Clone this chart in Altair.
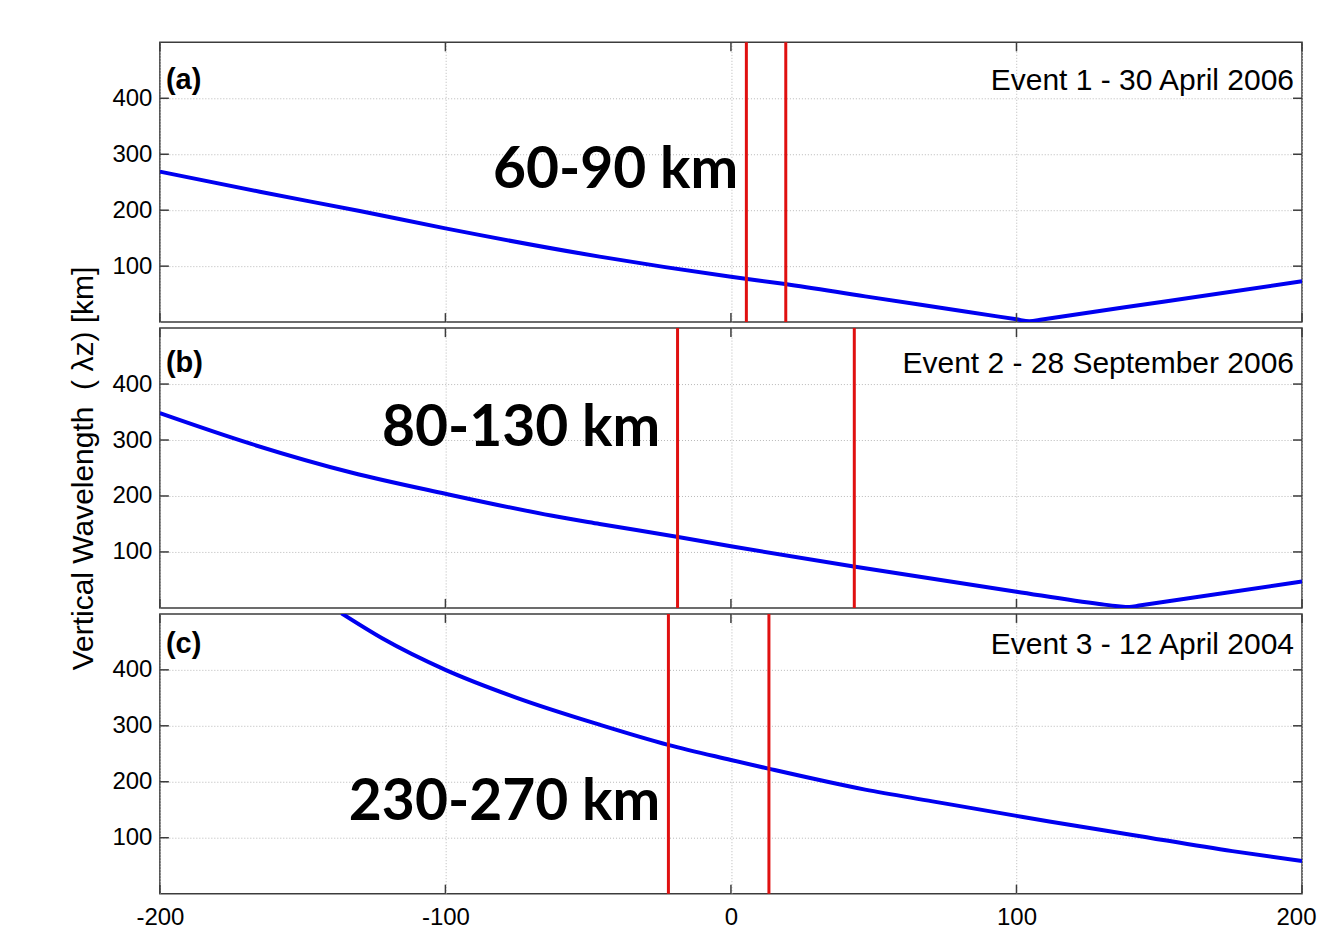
import altair as alt
import pandas as pd

# ---------------- data ----------------
XTICKS = [-200, -100, 0, 100, 200]
YTICKS = [100, 200, 300, 400]

# Panel (a) Event 1 - 30 April 2006
a_x = [-200, -165, -130, -100, -46, 0, 19, 47, 82, 100, 104.5, 109, 152, 200]
a_y = [269, 233, 198.5, 167.5, 117, 81, 68, 46, 19, 5, 1.5, 4.8, 37, 73]
a_red = [5.4, 19.2]

# Panel (b) Event 2 - 28 September 2006
b_x = [-200, -168, -133, -100, -63, -46, -19, 0, 43, 100, 129, 135.5, 139.5, 143, 200]
b_y = [348, 293, 242, 204, 165, 150, 127, 110, 74, 29, 7, 3, 1.5, 4.1, 47]
b_red = [-18.7, 43.2]

# Panel (c) Event 3 - 12 April 2004
c_x = [-136.4, -122, -100, -75, -46, -22, 0, 13.5, 47, 70.6, 100, 111.5, 140.6, 175.6, 200]
c_y = [501, 456, 400, 350, 302, 266, 239, 223, 186, 165, 139, 129, 105, 76, 58.5]
c_red = [-21.9, 13.3]

panel_labels = ["(a)", "(b)", "(c)"]
event_labels = ["Event 1 - 30 April 2006", "Event 2 - 28 September 2006", "Event 3 - 12 April 2004"]
ann_texts = ["60-90 km", "80-130 km", "230-270 km"]
ann_x = [-40.4, -73.5, -79.3]
ann_y = [239, 289, 132]

Y_TITLE = "Vertical Wavelength\u00a0\u00a0(\u00a0\u03bbz) [km]"

# ---------------- styling ----------------
W, H = 1143, 280
FRAME = "#3c3c3c"
FONT = "Liberation Sans"
text_offsets = [47, 44, 39]


def panel(xs, ys, reds, idx, show_x, show_title):
    xscale = alt.Scale(domain=[-200, 200], nice=False, zero=False)
    yscale = alt.Scale(domain=[0, 500], nice=False, zero=False)
    xaxis = alt.Axis(values=XTICKS, grid=True, gridColor="#b8b8b8", gridDash=[1, 2],
                     gridWidth=1, ticks=False, domain=False, labels=show_x,
                     labelFont=FONT, labelFontSize=24, labelColor="black",
                     labelPadding=12, labelFlush=False, title=None,
                     labelExpr="toString(datum.value)",
                     labelOffset={"expr": "datum.value == 200 ? -6 : 0"})
    yaxis = alt.Axis(values=YTICKS, grid=True, gridColor="#b8b8b8", gridDash=[1, 2],
                     gridWidth=1, ticks=False, domain=False,
                     labelFont=FONT, labelFontSize=24, labelColor="black",
                     labelPadding=8,
                     title=Y_TITLE if show_title else None,
                     titleFont=FONT, titleFontSize=30, titleFontWeight="normal",
                     titleColor="black", titlePadding=13)

    line_df = pd.DataFrame({"x": xs, "y": ys})
    base = alt.Chart(line_df).mark_line(color="#0000f0", strokeWidth=4, clip=True,
                                        interpolate="monotone").encode(
        x=alt.X("x:Q", scale=xscale, axis=xaxis),
        y=alt.Y("y:Q", scale=yscale, axis=yaxis),
    )

    red_df = pd.DataFrame({"x": reds})
    reds_layer = alt.Chart(red_df).mark_rule(color="#e01010", strokeWidth=3).encode(
        x=alt.X("x:Q", scale=xscale)
    )

    xt = pd.DataFrame({"x": XTICKS})
    yt = pd.DataFrame({"y": YTICKS})
    tick_style = dict(color=FRAME, strokeWidth=1.5)
    tb = alt.Chart(xt).mark_rule(**tick_style).encode(
        x=alt.X("x:Q", scale=xscale), y=alt.value(H), y2=alt.value(H - 9))
    tt = alt.Chart(xt).mark_rule(**tick_style).encode(
        x=alt.X("x:Q", scale=xscale), y=alt.value(0), y2=alt.value(9))
    tl = alt.Chart(yt).mark_rule(**tick_style).encode(
        y=alt.Y("y:Q", scale=yscale), x=alt.value(0), x2=alt.value(9))
    tr = alt.Chart(yt).mark_rule(**tick_style).encode(
        y=alt.Y("y:Q", scale=yscale), x=alt.value(W - 9), x2=alt.value(W))

    lab = alt.Chart(pd.DataFrame({"t": [panel_labels[idx]]})).mark_text(
        font=FONT, fontSize=29, fontWeight="bold", align="left", baseline="alphabetic",
        color="black").encode(text="t:N", x=alt.value(6), y=alt.value(text_offsets[idx]))
    ev = alt.Chart(pd.DataFrame({"t": [event_labels[idx]]})).mark_text(
        font=FONT, fontSize=30, align="right", baseline="alphabetic",
        color="black").encode(text="t:N", x=alt.value(W - 8), y=alt.value(text_offsets[idx] + 1))

    ann = alt.Chart(pd.DataFrame({"t": [ann_texts[idx]], "x": [ann_x[idx]], "y": [ann_y[idx]]})).mark_text(
        font="Lato", fontSize=57, fontWeight="bold", align="center", baseline="alphabetic",
        color="black").encode(
        text="t:N",
        x=alt.X("x:Q", scale=xscale),
        y=alt.Y("y:Q", scale=yscale))

    return alt.layer(base, reds_layer, tb, tt, tl, tr, lab, ev, ann).properties(width=W, height=H)


pa = panel(a_x, a_y, a_red, 0, False, False)
pb = panel(b_x, b_y, b_red, 1, False, True)
pc = panel(c_x, c_y, c_red, 2, True, False)

chart = alt.vconcat(pa, pb, pc, spacing=6, bounds="flush").properties(
    padding={"left": 60, "top": 31, "right": 0, "bottom": 0},
    background="white",
).configure_view(stroke=FRAME, strokeWidth=1.5)

chart.save("out.html", embed_options={"renderer": "svg", "actions": False})
